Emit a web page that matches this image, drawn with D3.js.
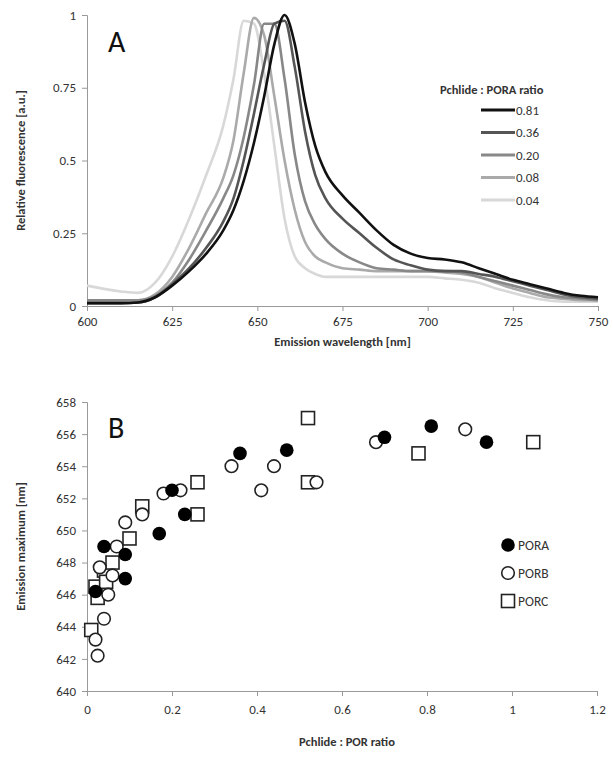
<!DOCTYPE html>
<meta charset="utf-8">
<style>
  body { margin: 0; background: #fff; }
  text { font-family: Calibri, "Liberation Sans", "Open Sans", sans-serif; fill: #333; }
  .axis path, .axis line { stroke: #999; }
  .axis text { font-size: 13px; fill: #333; }
  .title { font-size: 12.5px; font-weight: bold; }
</style>
<body>
<script src="https://d3js.org/d3.v7.min.js"></script>
<script>
// ---- panel A data ----
var wavelengths = [600,610,615,620,625,630,635,640,643,646,649,652,655,658,661,664,667,670,675,680,685,690,695,700,705,710,715,720,725,730,735,740,745,750];
var ratiosA = ['0.81','0.36','0.20','0.08','0.04'];
var colorsA = ['#111','#555','#888','#aaa','#d8d8d8'];
var s081 = [.01,.01,.012,.03,.07,.12,.18,.26,.33,.43,.56,.72,.9,1,.9,.7,.55,.46,.38,.32,.26,.21,.18,.165,.16,.15,.13,.11,.09,.075,.06,.045,.035,.03];
var s036 = [.01,.01,.012,.03,.075,.13,.2,.29,.37,.5,.66,.83,.97,.98,.82,.6,.45,.37,.3,.25,.2,.16,.14,.125,.12,.12,.11,.1,.085,.07,.055,.04,.03,.025];
var s020 = [.02,.02,.02,.035,.08,.16,.26,.37,.45,.58,.76,.97,.97,.78,.52,.36,.28,.23,.18,.15,.13,.125,.12,.12,.12,.115,.1,.085,.07,.055,.04,.03,.025,.02];
var s008 = [.02,.02,.02,.04,.1,.2,.32,.44,.57,.8,.99,.93,.72,.5,.33,.22,.17,.15,.13,.125,.12,.12,.12,.12,.115,.11,.1,.08,.06,.045,.03,.025,.02,.02];
var s004 = [.07,.05,.045,.08,.17,.3,.45,.62,.78,.98,.97,.8,.55,.3,.17,.13,.11,.1,.1,.1,.1,.1,.1,.1,.095,.09,.08,.06,.045,.03,.02,.015,.015,.015];
var seriesA = [s081, s036, s020, s008, s004];

// ---- panel B data ----
var poraX = [0.02,0.04,0.09,0.09,0.17,0.2,0.23,0.36,0.47,0.7,0.81,0.94];
var poraY = [646.2,649,648.5,647,649.8,652.5,651,654.8,655,655.8,656.5,655.5];
var porbX = [0.02,0.025,0.03,0.04,0.05,0.06,0.07,0.09,0.13,0.18,0.22,0.34,0.41,0.44,0.54,0.68,0.89];
var porbY = [643.2,642.2,647.7,644.5,646,647.2,649,650.5,651,652.3,652.5,654,652.5,654,653,655.5,656.3];
var porcX = [0.01,0.02,0.025,0.04,0.045,0.06,0.1,0.13,0.26,0.26,0.52,0.52,0.78,1.05];
var porcY = [643.8,646.5,645.8,647.5,646.8,648,649.5,651.5,653,651,657,653,654.8,655.5];
var xTicksB = [0,0.2,0.4,0.6,0.8,1,1.2];
var yTicksB = [640,642,644,646,648,650,652,654,656,658];

var svg = d3.select('body').append('svg').attr('width', 613).attr('height', 757);

// ---------- Panel A ----------
var xA = d3.scaleLinear().domain([600,750]).range([87,598]);
var yA = d3.scaleLinear().domain([0,1]).range([306,15]);

svg.append('g').attr('class','axis').attr('transform','translate(0,306)')
  .call(d3.axisBottom(xA).tickValues([600,625,650,675,700,725,750]).tickSize(5).tickPadding(6));
svg.append('g').attr('class','axis').attr('transform','translate(87,0)')
  .call(d3.axisLeft(yA).tickValues([0,0.25,0.5,0.75,1]).tickFormat(function(d){ return d; }).tickSize(5).tickPadding(6));

var line = d3.line().x(function(d,i){ return xA(wavelengths[i]); }).y(function(d){ return yA(d); }).curve(d3.curveMonotoneX);
// lighter ones first so dark ones sit on top
for (var k = seriesA.length - 1; k >= 0; k--) {
  svg.append('path').datum(seriesA[k]).attr('d', line)
    .attr('fill','none').attr('stroke', colorsA[k]).attr('stroke-width', 2.6);
}

svg.append('text').attr('x',108).attr('y',52).style('font-size','30px').style('fill','#111').text('A');
svg.append('text').attr('class','title').attr('x',xA(675)).attr('y',346).attr('text-anchor','middle').text('Emission wavelength [nm]');
svg.append('text').attr('class','title').attr('transform','translate(25,'+yA(0.5)+') rotate(-90)').attr('text-anchor','middle').text('Relative fluorescence [a.u.]');

var legA = svg.append('g');
legA.append('text').attr('class','title').attr('x',440).attr('y',94).text('Pchlide : PORA ratio');
ratiosA.forEach(function(r,i){
  var yy = 110 + i*22.5;
  legA.append('line').attr('x1',481).attr('x2',515).attr('y1',yy).attr('y2',yy).attr('stroke',colorsA[i]).attr('stroke-width',3);
  legA.append('text').attr('x',516).attr('y',yy+4.5).style('font-size','13px').text(r);
});

// ---------- Panel B ----------
var xB = d3.scaleLinear().domain([0,1.2]).range([87,597]);
var yB = d3.scaleLinear().domain([640,658]).range([691,402]);

svg.append('g').attr('class','axis').attr('transform','translate(0,691)')
  .call(d3.axisBottom(xB).tickValues(xTicksB).tickFormat(function(d){ return d; }).tickSize(5).tickPadding(9));
svg.append('g').attr('class','axis').attr('transform','translate(87,0)')
  .call(d3.axisLeft(yB).tickValues(yTicksB).tickSize(5).tickPadding(6));

var gB = svg.append('g');
porcX.forEach(function(x,i){
  gB.append('rect').attr('x',xB(x)-6.5).attr('y',yB(porcY[i])-6.5).attr('width',13).attr('height',13)
    .attr('fill','#fff').attr('stroke','#222').attr('stroke-width',1.6);
});
porbX.forEach(function(x,i){
  gB.append('circle').attr('cx',xB(x)).attr('cy',yB(porbY[i])).attr('r',6.3)
    .attr('fill','#fff').attr('stroke','#222').attr('stroke-width',1.6);
});
poraX.forEach(function(x,i){
  gB.append('circle').attr('cx',xB(x)).attr('cy',yB(poraY[i])).attr('r',6.8).attr('fill','#000');
});

svg.append('text').attr('x',108).attr('y',438).style('font-size','30px').style('fill','#111').text('B');
svg.append('text').attr('class','title').attr('x',xB(0.6)+5).attr('y',746).attr('text-anchor','middle').text('Pchlide : POR ratio');
svg.append('text').attr('class','title').attr('transform','translate(25,'+yB(649)+') rotate(-90)').attr('text-anchor','middle').text('Emission maximum [nm]');

var legB = svg.append('g');
legB.append('circle').attr('cx',508).attr('cy',545).attr('r',6.8).attr('fill','#000');
legB.append('circle').attr('cx',508).attr('cy',573).attr('r',6.3).attr('fill','#fff').attr('stroke','#222').attr('stroke-width',1.6);
legB.append('rect').attr('x',501.5).attr('y',594.5).attr('width',13).attr('height',13).attr('fill','#fff').attr('stroke','#222').attr('stroke-width',1.6);
[['PORA',545],['PORB',573],['PORC',601]].forEach(function(d){
  legB.append('text').attr('x',518).attr('y',d[1]+5).style('font-size','13.5px').text(d[0]);
});
</script>
</body>
